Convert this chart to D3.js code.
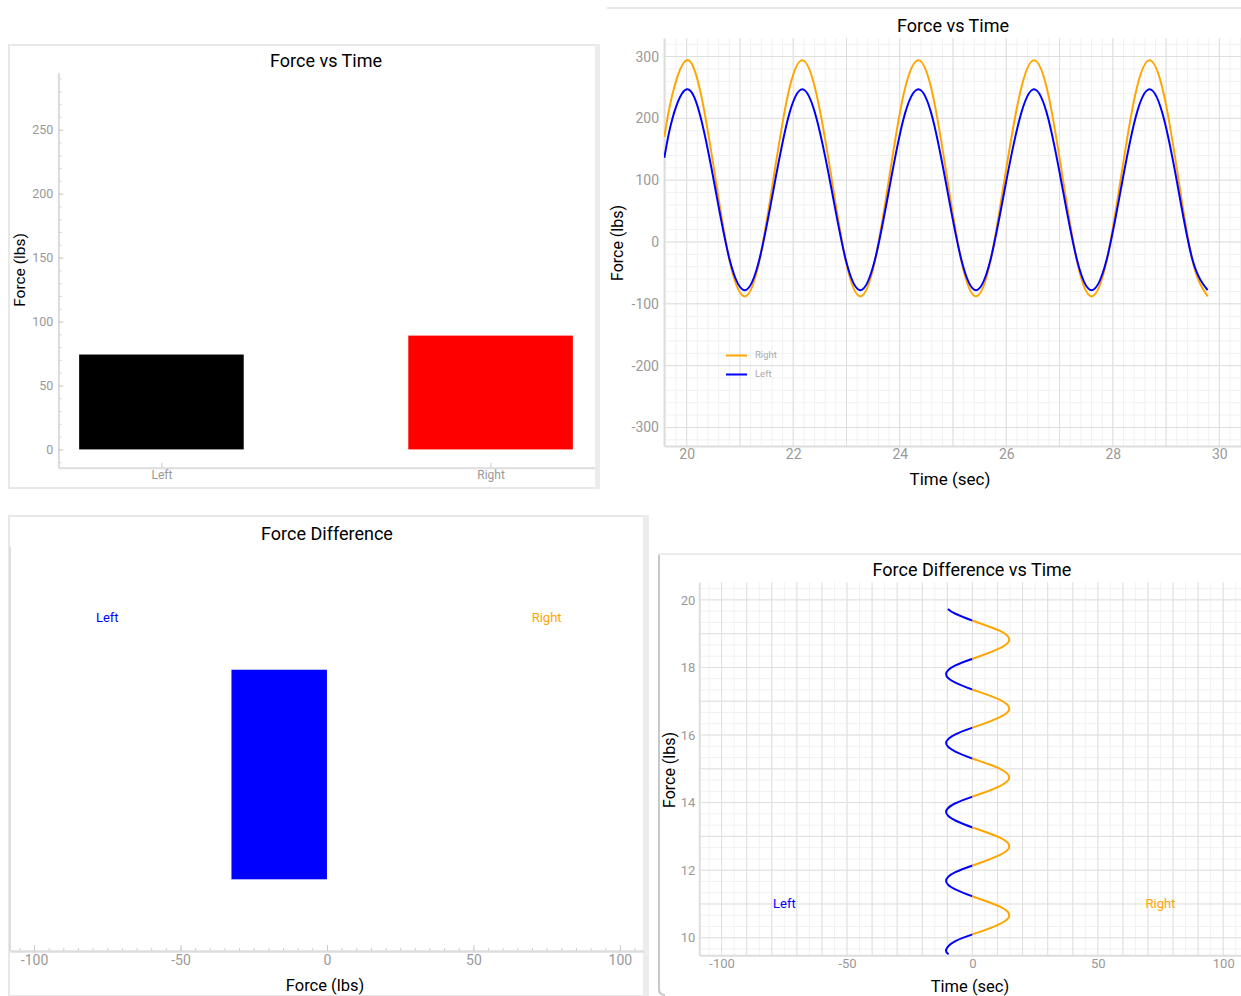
<!DOCTYPE html>
<html>
<head>
<meta charset="utf-8">
<script src="https://cdnjs.cloudflare.com/ajax/libs/d3/7.8.5/d3.min.js"></script>
<style>
body { margin: 0; background: #fff; }
text { font-family: Roboto, "Liberation Sans", sans-serif; }
</style>
</head>
<body>
<div id="container"></div>
<script>
// bar chart: force per side
var sides = ["Left", "Right"]
var sideForce = [74.2, 89.0]
var sideColors = ["black", "red"]
var barTicks = [0, 50, 100, 150, 200, 250]

// force vs time
var time = [19.58, 19.73, 20.00, 20.27, 20.54, 20.81, 21.09, 21.36, 21.63, 21.90,
            22.17, 22.44, 22.72, 22.99, 23.26, 23.53, 23.80, 24.07, 24.35, 24.62,
            24.89, 25.16, 25.43, 25.70, 25.97, 26.25, 26.52, 26.79, 27.06, 27.33,
            27.60, 27.88, 28.15, 28.42, 28.69, 28.96, 29.23, 29.50, 29.78]
var rightForce = [170, 238,
                  294, 238, 103, -32, -88, -32, 103, 238,
                  294, 238, 103, -32, -88, -32, 103, 238,
                  294, 238, 103, -32, -88, -32, 103, 238,
                  294, 238, 103, -32, -88, -32, 103, 238,
                  294, 238, 103, -32, -88]
var leftForce = [136, 199,
                 247, 199, 85, -30, -78, -30, 85, 199,
                 247, 199, 85, -30, -78, -30, 85, 199,
                 247, 199, 85, -30, -78, -30, 85, 199,
                 247, 199, 85, -30, -78, -30, 85, 199,
                 247, 199, 85, -30, -78]
var timeTicks = [20, 22, 24, 26, 28, 30]
var forceTicks = [-300, -200, -100, 0, 100, 200, 300]
var series = [{name: "Right", color: "orange", values: rightForce},
              {name: "Left", color: "blue", values: leftForce}]

// force difference
var diffValue = -32.6
var diffLabels = ["Left", "Right"]
var diffLabelValues = [-75, 75]
var diffColors = ["blue", "orange"]
var diffTicks = [-100, -50, 0, 50, 100]

// force difference vs time
var diffTime = [9.51, 9.64, 9.90, 10.15, 10.41, 10.66, 10.92, 11.17, 11.43, 11.68,
                11.94, 12.19, 12.45, 12.70, 12.96, 13.21, 13.47, 13.72, 13.98, 14.23,
                14.49, 14.74, 15.00, 15.25, 15.51, 15.76, 16.02, 16.27, 16.53, 16.78,
                17.04, 17.29, 17.55, 17.80, 18.06, 18.31, 18.57, 18.82, 19.08, 19.33,
                19.59, 19.73]
var diffForce = [-9.5,
                 -10.5, -6.8, 2.1, 11.0, 14.7, 11.0, 2.1, -6.8,
                 -10.5, -6.8, 2.1, 11.0, 14.7, 11.0, 2.1, -6.8,
                 -10.5, -6.8, 2.1, 11.0, 14.7, 11.0, 2.1, -6.8,
                 -10.5, -6.8, 2.1, 11.0, 14.7, 11.0, 2.1, -6.8,
                 -10.5, -6.8, 2.1, 11.0, 14.7, 11.0, 2.1, -6.8,
                 -9.8]
var diffTimeTicks = [10, 12, 14, 16, 18, 20]

var svg = d3.select("#container")
    .append("svg")
        .attr("width", 1241)
        .attr("height", 996)

// plain hyphen minus like the original app
var fmt = function(d) { return String(d) }

function styleAxis(g, size) {
    g.attr("font-family", null)
    g.select(".domain").attr("stroke", "#ddd").attr("stroke-width", 2)
    g.selectAll(".tick line").attr("stroke", "#ccc")
    g.selectAll(".tick text").attr("fill", "#999").style("font-size", size + "px")
}

function label(x, y, txt, size, rotate) {
    var t = svg.append("text")
        .attr("x", x).attr("y", y)
        .attr("text-anchor", "middle")
        .attr("dominant-baseline", "central")
        .style("font-size", size + "px")
        .attr("fill", "#000")
        .text(txt)
    if (rotate) t.attr("transform", "rotate(-90," + x + "," + y + ")")
    return t
}

// ---------- panel 1: bars ----------
svg.append("rect").attr("x", 9).attr("y", 45).attr("width", 588).attr("height", 443)
    .attr("fill", "none").attr("stroke", "#e8e8e8").attr("stroke-width", 2)
svg.append("rect").attr("x", 595).attr("y", 44).attr("width", 5).attr("height", 445).attr("fill", "#ececec")

var bx = d3.scaleLinear().domain([-0.313, 1.316]).range([58.4, 594.6])
var by = d3.scaleLinear().domain([-14.3, 294.6]).range([467.7, 72.7])

svg.append("g").attr("transform", "translate(58.4,0)")
    .call(d3.axisLeft(by).tickValues(d3.range(-10, 295, 10)).tickSize(-3).tickSizeOuter(0).tickFormat(""))
    .call(styleAxis, 12.5)
svg.append("g").attr("transform", "translate(58.4,0)")
    .call(d3.axisLeft(by).tickValues(barTicks).tickSize(-5).tickSizeOuter(0).tickPadding(5).tickFormat(fmt))
    .call(styleAxis, 12.5)
svg.append("g").attr("transform", "translate(0,467.7)")
    .call(d3.axisBottom(bx).tickValues([0, 1]).tickSize(-5).tickSizeOuter(0).tickPadding(3)
        .tickFormat(function(d) { return sides[d] }))
    .call(styleAxis, 12)

svg.selectAll(".sidebar")
    .data(sideForce)
    .enter()
    .append("rect")
    .attr("class", "sidebar")
    .attr("x", function(d, i) { return bx(i - 0.25) })
    .attr("width", function(d, i) { return bx(i + 0.25) - bx(i - 0.25) })
    .attr("y", function(d) { return by(d) })
    .attr("height", function(d) { return by(0) - by(d) })
    .attr("fill", function(d, i) { return sideColors[i] })

label(326, 60, "Force vs Time", 18)
label(20, 270, "Force (lbs)", 15.5, true)

// ---------- panel 2: force vs time ----------
svg.append("line").attr("x1", 607).attr("x2", 1241).attr("y1", 8).attr("y2", 8)
    .attr("stroke", "#e8e8e8").attr("stroke-width", 2)

var tx = d3.scaleLinear().domain([19.574, 30.5]).range([664, 1246])
var ty = d3.scaleLinear().domain([-330, 330]).range([446, 38])

var grid2 = svg.append("g")
grid2.selectAll(".vminor").data(d3.range(19.6, 30.5, 0.2)).enter().append("line")
    .attr("x1", function(d) { return tx(d) }).attr("x2", function(d) { return tx(d) })
    .attr("y1", 38).attr("y2", 446).attr("stroke", "#f1f1f1")
grid2.selectAll(".hminor").data(d3.range(-320, 330, 20)).enter().append("line")
    .attr("y1", function(d) { return ty(d) }).attr("y2", function(d) { return ty(d) })
    .attr("x1", 664).attr("x2", 1246).attr("stroke", "#f1f1f1")
grid2.selectAll(".vmajor").data(d3.range(20, 31, 1)).enter().append("line")
    .attr("x1", function(d) { return tx(d) }).attr("x2", function(d) { return tx(d) })
    .attr("y1", 38).attr("y2", 446).attr("stroke", "#dedede")
grid2.selectAll(".hmajor").data(forceTicks).enter().append("line")
    .attr("y1", function(d) { return ty(d) }).attr("y2", function(d) { return ty(d) })
    .attr("x1", 664).attr("x2", 1246).attr("stroke", "#dedede")

svg.append("g").attr("transform", "translate(664,0)")
    .call(d3.axisLeft(ty).tickValues(forceTicks).tickSize(0).tickPadding(5).tickFormat(fmt))
    .call(styleAxis, 14)
svg.append("g").attr("transform", "translate(0,446)")
    .call(d3.axisBottom(tx).tickValues(timeTicks).tickSize(0).tickPadding(3).tickFormat(fmt))
    .call(styleAxis, 14)

svg.append("clipPath").attr("id", "clip2")
    .append("rect").attr("x", 664).attr("y", 38).attr("width", 582).attr("height", 408)

var line2 = d3.line()
    .x(function(d, i) { return tx(time[i]) })
    .y(function(d) { return ty(d) })
    .curve(d3.curveNatural)

svg.append("g").attr("clip-path", "url(#clip2)")
    .selectAll("path")
    .data(series)
    .enter()
    .append("path")
    .attr("d", function(s) { return line2(s.values) })
    .attr("fill", "none")
    .attr("stroke", function(s) { return s.color })
    .attr("stroke-width", 2)

var legend = svg.selectAll(".legend")
    .data(series)
    .enter()
    .append("g")
    .attr("transform", function(d, i) { return "translate(726," + (355.5 + i * 19) + ")" })
legend.append("line").attr("x1", 0).attr("x2", 21)
    .attr("stroke", function(d) { return d.color }).attr("stroke-width", 2)
legend.append("text").attr("x", 29).attr("y", -1).attr("dominant-baseline", "central")
    .style("font-size", "9.5px").attr("fill", "#aaa")
    .text(function(d) { return d.name })

label(953, 25, "Force vs Time", 18)
label(617, 243, "Force (lbs)", 16, true)
label(950, 479, "Time (sec)", 17)

// ---------- panel 3: force difference ----------
svg.append("rect").attr("x", 9).attr("y", 516).attr("width", 636).attr("height", 480)
    .attr("fill", "none").attr("stroke", "#e8e8e8").attr("stroke-width", 2)
svg.append("rect").attr("x", 643).attr("y", 515).attr("width", 6).attr("height", 481).attr("fill", "#ececec")

var dx = d3.scaleLinear().domain([-108.2, 108]).range([10, 643.3])
var dy = d3.scaleLinear().domain([-0.342, 1.587]).range([951, 546.7])

svg.append("line").attr("x1", 10).attr("x2", 10).attr("y1", 546.7).attr("y2", 951)
    .attr("stroke", "#ddd").attr("stroke-width", 2)
svg.append("g").attr("transform", "translate(0,951)")
    .call(d3.axisBottom(dx).tickValues(d3.range(-105, 106, 5)).tickSize(-3).tickSizeOuter(0).tickFormat(""))
    .call(styleAxis, 14)
svg.append("g").attr("transform", "translate(0,951)")
    .call(d3.axisBottom(dx).tickValues(diffTicks).tickSize(-6).tickSizeOuter(0).tickPadding(4).tickFormat(fmt))
    .call(styleAxis, 14)

svg.append("rect")
    .attr("x", dx(Math.min(diffValue, 0)))
    .attr("width", Math.abs(dx(diffValue) - dx(0)))
    .attr("y", dy(1))
    .attr("height", dy(0) - dy(1))
    .attr("fill", diffValue < 0 ? diffColors[0] : diffColors[1])

svg.selectAll(".difflabel")
    .data(diffLabels)
    .enter()
    .append("text")
    .attr("x", function(d, i) { return dx(diffLabelValues[i]) })
    .attr("y", dy(1.25))
    .attr("text-anchor", "middle")
    .attr("dominant-baseline", "central")
    .style("font-size", "13px")
    .attr("fill", function(d, i) { return diffColors[i] })
    .text(function(d) { return d })

label(327, 533, "Force Difference", 18)
label(325, 985, "Force (lbs)", 16.5)

// ---------- panel 4: force difference vs time ----------
svg.append("path").attr("d", "M1241,554 H659 V989 Q659,995 665,995")
    .attr("fill", "none").attr("stroke", "#ececec").attr("stroke-width", 2)
svg.append("path").attr("d", "M659,555 V989 Q659,995 665,995")
    .attr("fill", "none").attr("stroke", "#c8c8c8").attr("stroke-width", 2)

var fx = d3.scaleLinear().domain([-108.9, 109]).range([699.3, 1245.8])
var fy = d3.scaleLinear().domain([9.48, 20.52]).range([955.3, 582.3])

var grid4 = svg.append("g")
grid4.selectAll(".vminor").data(d3.range(-105, 110, 5)).enter().append("line")
    .attr("x1", function(d) { return fx(d) }).attr("x2", function(d) { return fx(d) })
    .attr("y1", 582.3).attr("y2", 955.3).attr("stroke", "#f1f1f1")
grid4.selectAll(".hminor").data(d3.range(29, 62, 1)).enter().append("line")
    .attr("y1", function(d) { return fy(d / 3) }).attr("y2", function(d) { return fy(d / 3) })
    .attr("x1", 699.3).attr("x2", 1245.8).attr("stroke", "#f1f1f1")
grid4.selectAll(".vmajor").data(d3.range(-100, 110, 10)).enter().append("line")
    .attr("x1", function(d) { return fx(d) }).attr("x2", function(d) { return fx(d) })
    .attr("y1", 582.3).attr("y2", 955.3).attr("stroke", "#e0e0e0")
grid4.selectAll(".hmajor").data(d3.range(10, 21, 1)).enter().append("line")
    .attr("y1", function(d) { return fy(d) }).attr("y2", function(d) { return fy(d) })
    .attr("x1", 699.3).attr("x2", 1245.8).attr("stroke", "#e0e0e0")

svg.append("g").attr("transform", "translate(699.3,0)")
    .call(d3.axisLeft(fy).tickValues(diffTimeTicks).tickSize(0).tickPadding(4).tickFormat(fmt))
    .call(styleAxis, 13)
svg.append("g").attr("transform", "translate(0,955.3)")
    .call(d3.axisBottom(fx).tickValues(diffTicks).tickSize(0).tickPadding(3).tickFormat(fmt))
    .call(styleAxis, 13)

svg.append("clipPath").attr("id", "clipneg")
    .append("rect").attr("x", 699.3).attr("y", 582.3).attr("width", fx(0) - 699.3).attr("height", 373)
svg.append("clipPath").attr("id", "clippos")
    .append("rect").attr("x", fx(0)).attr("y", 582.3).attr("width", 1245.8 - fx(0)).attr("height", 373)

var line4 = d3.line()
    .x(function(d) { return fx(d) })
    .y(function(d, i) { return fy(diffTime[i]) })
    .curve(d3.curveNatural)

svg.selectAll(".diffline")
    .data(["clipneg", "clippos"])
    .enter()
    .append("path")
    .attr("class", "diffline")
    .attr("clip-path", function(d) { return "url(#" + d + ")" })
    .attr("d", line4(diffForce))
    .attr("fill", "none")
    .attr("stroke", function(d, i) { return diffColors[i] })
    .attr("stroke-width", 2)

svg.selectAll(".difflabel4")
    .data(diffLabels)
    .enter()
    .append("text")
    .attr("x", function(d, i) { return fx(diffLabelValues[i]) })
    .attr("y", fy(11.0))
    .attr("text-anchor", "middle")
    .attr("dominant-baseline", "central")
    .style("font-size", "13px")
    .attr("fill", function(d, i) { return diffColors[i] })
    .text(function(d) { return d })

label(972, 569, "Force Difference vs Time", 18)
label(669, 770, "Force (lbs)", 16, true)
label(970, 986, "Time (sec)", 16.5)
</script>
</body>
</html>
